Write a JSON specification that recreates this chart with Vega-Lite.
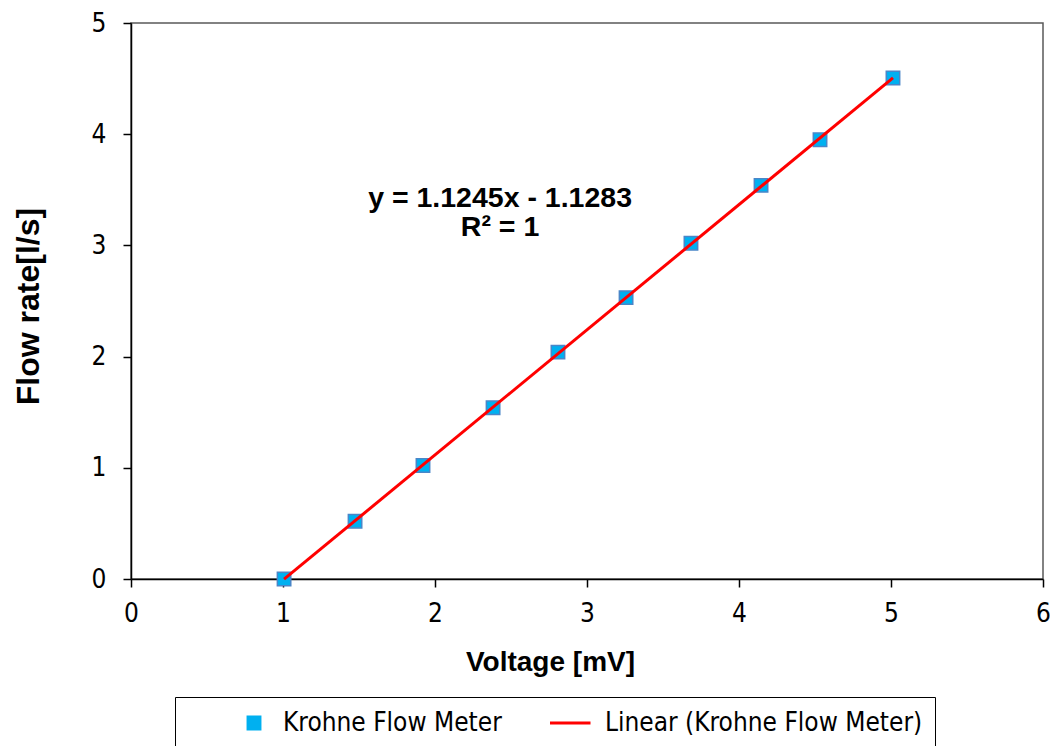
{
  "$schema": "https://vega.github.io/schema/vega-lite/v6.json",
  "width": 912,
  "height": 556,
  "autosize": {"type": "none"},
  "padding": {"left": 131, "top": 23, "right": 7, "bottom": 167},
  "background": "white",
  "config": {
    "view": {"stroke": "#595959", "strokeWidth": 1.5},
    "axis": {
      "grid": false,
      "domainColor": "#000000",
      "domainWidth": 1.5,
      "tickColor": "#000000",
      "tickWidth": 1.5,
      "tickSize": 8,
      "labelFlush": false,
      "labelOverlap": false,
      "labelFont": "DejaVu Sans Condensed, Liberation Sans, sans-serif",
      "labelFontSize": 26,
      "labelColor": "#000000",
      "format": "d",
      "titleFont": "Liberation Sans",
      "titleFontWeight": "bold",
      "titleColor": "#000000"
    }
  },
  "datasets": {
    "meter": [
      {"voltage": 1.007, "flow": 0.0},
      {"voltage": 1.474, "flow": 0.52},
      {"voltage": 1.921, "flow": 1.02},
      {"voltage": 2.382, "flow": 1.54},
      {"voltage": 2.809, "flow": 2.04},
      {"voltage": 3.257, "flow": 2.53},
      {"voltage": 3.684, "flow": 3.02},
      {"voltage": 4.145, "flow": 3.54},
      {"voltage": 4.533, "flow": 3.95},
      {"voltage": 5.013, "flow": 4.505}
    ],
    "notes": [
      {"tx": 2.428, "ty": 3.345, "label": "y = 1.1245x - 1.1283"},
      {"tx": 2.428, "ty": 3.085, "label": "R² = 1"}
    ]
  },
  "layer": [
    {
      "data": {"name": "meter"},
      "mark": {"type": "point", "shape": "square", "filled": true, "size": 180, "stroke": "#4A86C8", "strokeWidth": 1.5, "opacity": 1},
      "encoding": {
        "x": {
          "field": "voltage", "type": "quantitative",
          "scale": {"domain": [0, 6], "nice": false, "zero": false},
          "axis": {
            "values": [0, 1, 2, 3, 4, 5, 6],
            "labelPadding": 13,
            "title": "Voltage [mV]",
            "titleFontSize": 28,
            "titleX": 419,
            "titleY": 91,
            "titleBaseline": "alphabetic",
            "titleAlign": "center"
          }
        },
        "y": {
          "field": "flow", "type": "quantitative",
          "scale": {"domain": [0, 5], "nice": false, "zero": false},
          "axis": {
            "values": [0, 1, 2, 3, 4, 5],
            "labelPadding": 17,
            "title": "Flow rate[l/s]",
            "titleFontSize": 32,
            "titleX": -93,
            "titleY": 283,
            "titleAngle": -90,
            "titleBaseline": "alphabetic",
            "titleAlign": "center"
          }
        },
        "color": {
          "datum": "Krohne Flow Meter",
          "type": "nominal",
          "scale": {"domain": ["Krohne Flow Meter", "Linear (Krohne Flow Meter)"], "range": ["#00B0F0", "#FF0000"]},
          "legend": {
            "title": " ",
            "titleOrient": "left",
            "titleFontSize": 28,
            "titlePadding": 54,
            "orient": "none",
            "legendX": 44,
            "legendY": 674,
            "direction": "horizontal",
            "padding": 12,
            "clipHeight": 28,
            "columnPadding": 48,
            "labelFont": "DejaVu Sans Condensed, Liberation Sans, sans-serif",
            "labelFontSize": 26,
            "labelColor": "#000000",
            "labelOffset": 3,
            "labelLimit": 400,
            "strokeColor": "#000000",
            "fillColor": "#FFFFFF",
            "encoding": {
              "symbols": {
                "shape": {"value": {"expr": "datum.value === 'Krohne Flow Meter' ? 'square' : 'stroke'"}},
                "size": {"value": {"expr": "datum.value === 'Krohne Flow Meter' ? 180 : 3025"}},
                "stroke": {"value": {"expr": "datum.value === 'Krohne Flow Meter' ? '#4A86C8' : '#FF0000'"}},
                "strokeWidth": {"value": {"expr": "datum.value === 'Krohne Flow Meter' ? 1.5 : 3"}},
                "fill": {"value": {"expr": "datum.value === 'Krohne Flow Meter' ? '#00B0F0' : 'transparent'"}},
                "opacity": {"value": 1}
              },
              "labels": {
                "dx": {"value": {"expr": "datum.value === 'Krohne Flow Meter' ? 13 : 26"}}
              }
            }
          }
        }
      }
    },
    {
      "data": {"name": "meter"},
      "transform": [{"regression": "flow", "on": "voltage"}],
      "mark": {"type": "line", "strokeWidth": 3},
      "encoding": {
        "x": {"field": "voltage", "type": "quantitative"},
        "y": {"field": "flow", "type": "quantitative"},
        "color": {"datum": "Linear (Krohne Flow Meter)", "type": "nominal"}
      }
    },
    {
      "data": {"name": "notes"},
      "mark": {"type": "text", "font": "Liberation Sans", "fontWeight": "bold", "fontSize": 28.5, "align": "center", "baseline": "alphabetic", "color": "#000000"},
      "encoding": {
        "x": {"field": "tx", "type": "quantitative"},
        "y": {"field": "ty", "type": "quantitative"},
        "text": {"field": "label"}
      }
    }
  ]
}
